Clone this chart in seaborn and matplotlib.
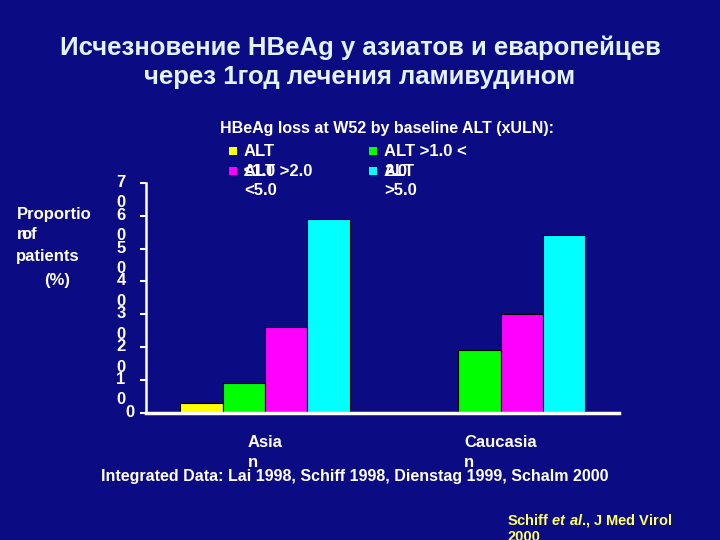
import numpy as np
import pandas as pd
import matplotlib
matplotlib.use('Agg')
import matplotlib.pyplot as plt
import matplotlib.transforms as mtransforms
from matplotlib.patches import Rectangle
import seaborn as sns

# chart data
groups = ['Asian', 'Caucasian']
group_labels = ['Asia\nn', 'Caucasia\nn']
alt_levels = ['ALT <=1.0', 'ALT >1.0 <2.0', 'ALT >2.0 <5.0', 'ALT >5.0']
legend_labels = ['ALT\n≤1.0', 'ALT >1.0 <\n2.0', 'ALT >2.0\n<5.0', 'ALT\n>5.0']
asian = [3, 9, 26, 59]
caucasian = [np.nan, 19, 30, 54]
bar_colors = ['#FFFF00', '#00FF00', '#FF00FF', '#00FFFF']
yticks = [0, 10, 20, 30, 40, 50, 60, 70]
ytick_labels = ['0', '1\n0', '2\n0', '3\n0', '4\n0', '5\n0', '6\n0', '7\n0']

title_lines = ['Исчезновение HBeAg у азиатов и еваропейцев',
               'через 1год лечения ламивудином']
legend_title = 'HBeAg loss at W52 by baseline ALT (xULN):'
footnote = 'Integrated Data: Lai 1998, Schiff 1998, Dienstag 1999, Schalm 2000'

bg = '#0B0B84'
W, H = 720, 540

plt.rcParams['font.family'] = ['Liberation Sans', 'DejaVu Sans']
plt.rcParams['font.weight'] = 'bold'
plt.rcParams['mathtext.fontset'] = 'custom'
plt.rcParams['mathtext.it'] = 'Liberation Sans:italic:bold'
plt.rcParams['mathtext.rm'] = 'Liberation Sans:bold'


def px(x, y):
    return x / W, 1 - y / H


df = pd.DataFrame({
    'group': np.repeat(groups, len(alt_levels)),
    'level': alt_levels * len(groups),
    'value': asian + caucasian,
}).dropna()

fig = plt.figure(figsize=(7.2, 5.4), dpi=100, facecolor=bg)
ax = fig.add_axes([146 / W, 1 - 413 / H, (619 - 146) / W, (413 - 182.7) / H])
ax.set_facecolor(bg)

sns.barplot(data=df, x='group', y='value', hue='level', order=groups,
            hue_order=alt_levels, palette=dict(zip(alt_levels, bar_colors)),
            saturation=1, width=0.72, edgecolor='black', linewidth=0.8,
            legend=False, ax=ax)

ax.set_xlim(-0.505, 1.503)
ax.set_ylim(0, 70)
ax.set_xlabel('')
ax.set_ylabel('')

for side in ['top', 'right']:
    ax.spines[side].set_visible(False)
ax.spines['left'].set_color('white')
ax.spines['left'].set_linewidth(1.8)
ax.spines['bottom'].set_color('white')
ax.spines['bottom'].set_linewidth(2.5)

# y ticks with the wrapped labels
ax.set_yticks(yticks)
ax.set_yticklabels(ytick_labels, fontsize=12, fontweight='bold', color='white',
                   ha='center', va='top', multialignment='center', linespacing=1.45)
ax.tick_params(axis='y', colors='white', length=4, width=1.5, pad=14)
shift = mtransforms.ScaledTranslation(0, 8 / 100, fig.dpi_scale_trans)
for i, lab in enumerate(ax.get_yticklabels()):
    if i == 0:
        lab.set_transform(lab.get_transform() + shift +
                          mtransforms.ScaledTranslation(9 / 100, 0, fig.dpi_scale_trans))
    else:
        lab.set_transform(lab.get_transform() + shift)

ax.set_xticks(range(len(groups)))
ax.set_xticklabels(group_labels, fontsize=12, fontweight='bold', color='white',
                   ha='center', multialignment='left', linespacing=1.4)
ax.tick_params(axis='x', length=0, pad=16)

# slide title
fig.text(*px(360, 48), title_lines[0], ha='center', va='center',
         fontsize=18.5, fontweight='bold', color='#E4F2FF')
fig.text(*px(360, 77), title_lines[1], ha='center', va='center',
         fontsize=18.5, fontweight='bold', color='#E4F2FF')

# legend block, drawn by hand
fig.text(*px(220, 128), legend_title, ha='left', va='center',
         fontsize=11.5, fontweight='bold', color='white')
for i, (lab, col) in enumerate(zip(legend_labels, bar_colors)):
    cx = 229 if i % 2 == 0 else 369
    cy = 151 + 20 * (i // 2)
    fig.patches.append(Rectangle(px(cx, cy + 4), 8 / W, 8 / H, transform=fig.transFigure,
                                 facecolor=col, edgecolor='none'))
    for j, line in enumerate(lab.split('\n')):
        fig.text(*px(cx + 15, cy + 20 * j), line, ha='left', va='center',
                 fontsize=12, fontweight='bold', color='white')

# y label, wrapped as on the slide
for x, y, s in [(17, 214, 'Proportio'), (17, 235, 'n'), (21, 235, 'of'),
                (16, 257, 'patients'), (44, 281, '(%)')]:
    fig.text(*px(x, y), s, ha='left', va='center', fontsize=12,
             fontweight='bold', color='white')

fig.text(*px(355, 477), footnote, ha='center', va='center',
         fontsize=11.5, fontweight='bold', color='white')
fig.text(*px(507, 512), 'Schiff $\\mathit{et\\ al}$., J Med Virol\n2000', ha='left', va='top',
         fontsize=10.5, fontweight='bold', color='#FFFF66', linespacing=1.1)

fig.savefig('out.png', dpi=100, facecolor=bg)
